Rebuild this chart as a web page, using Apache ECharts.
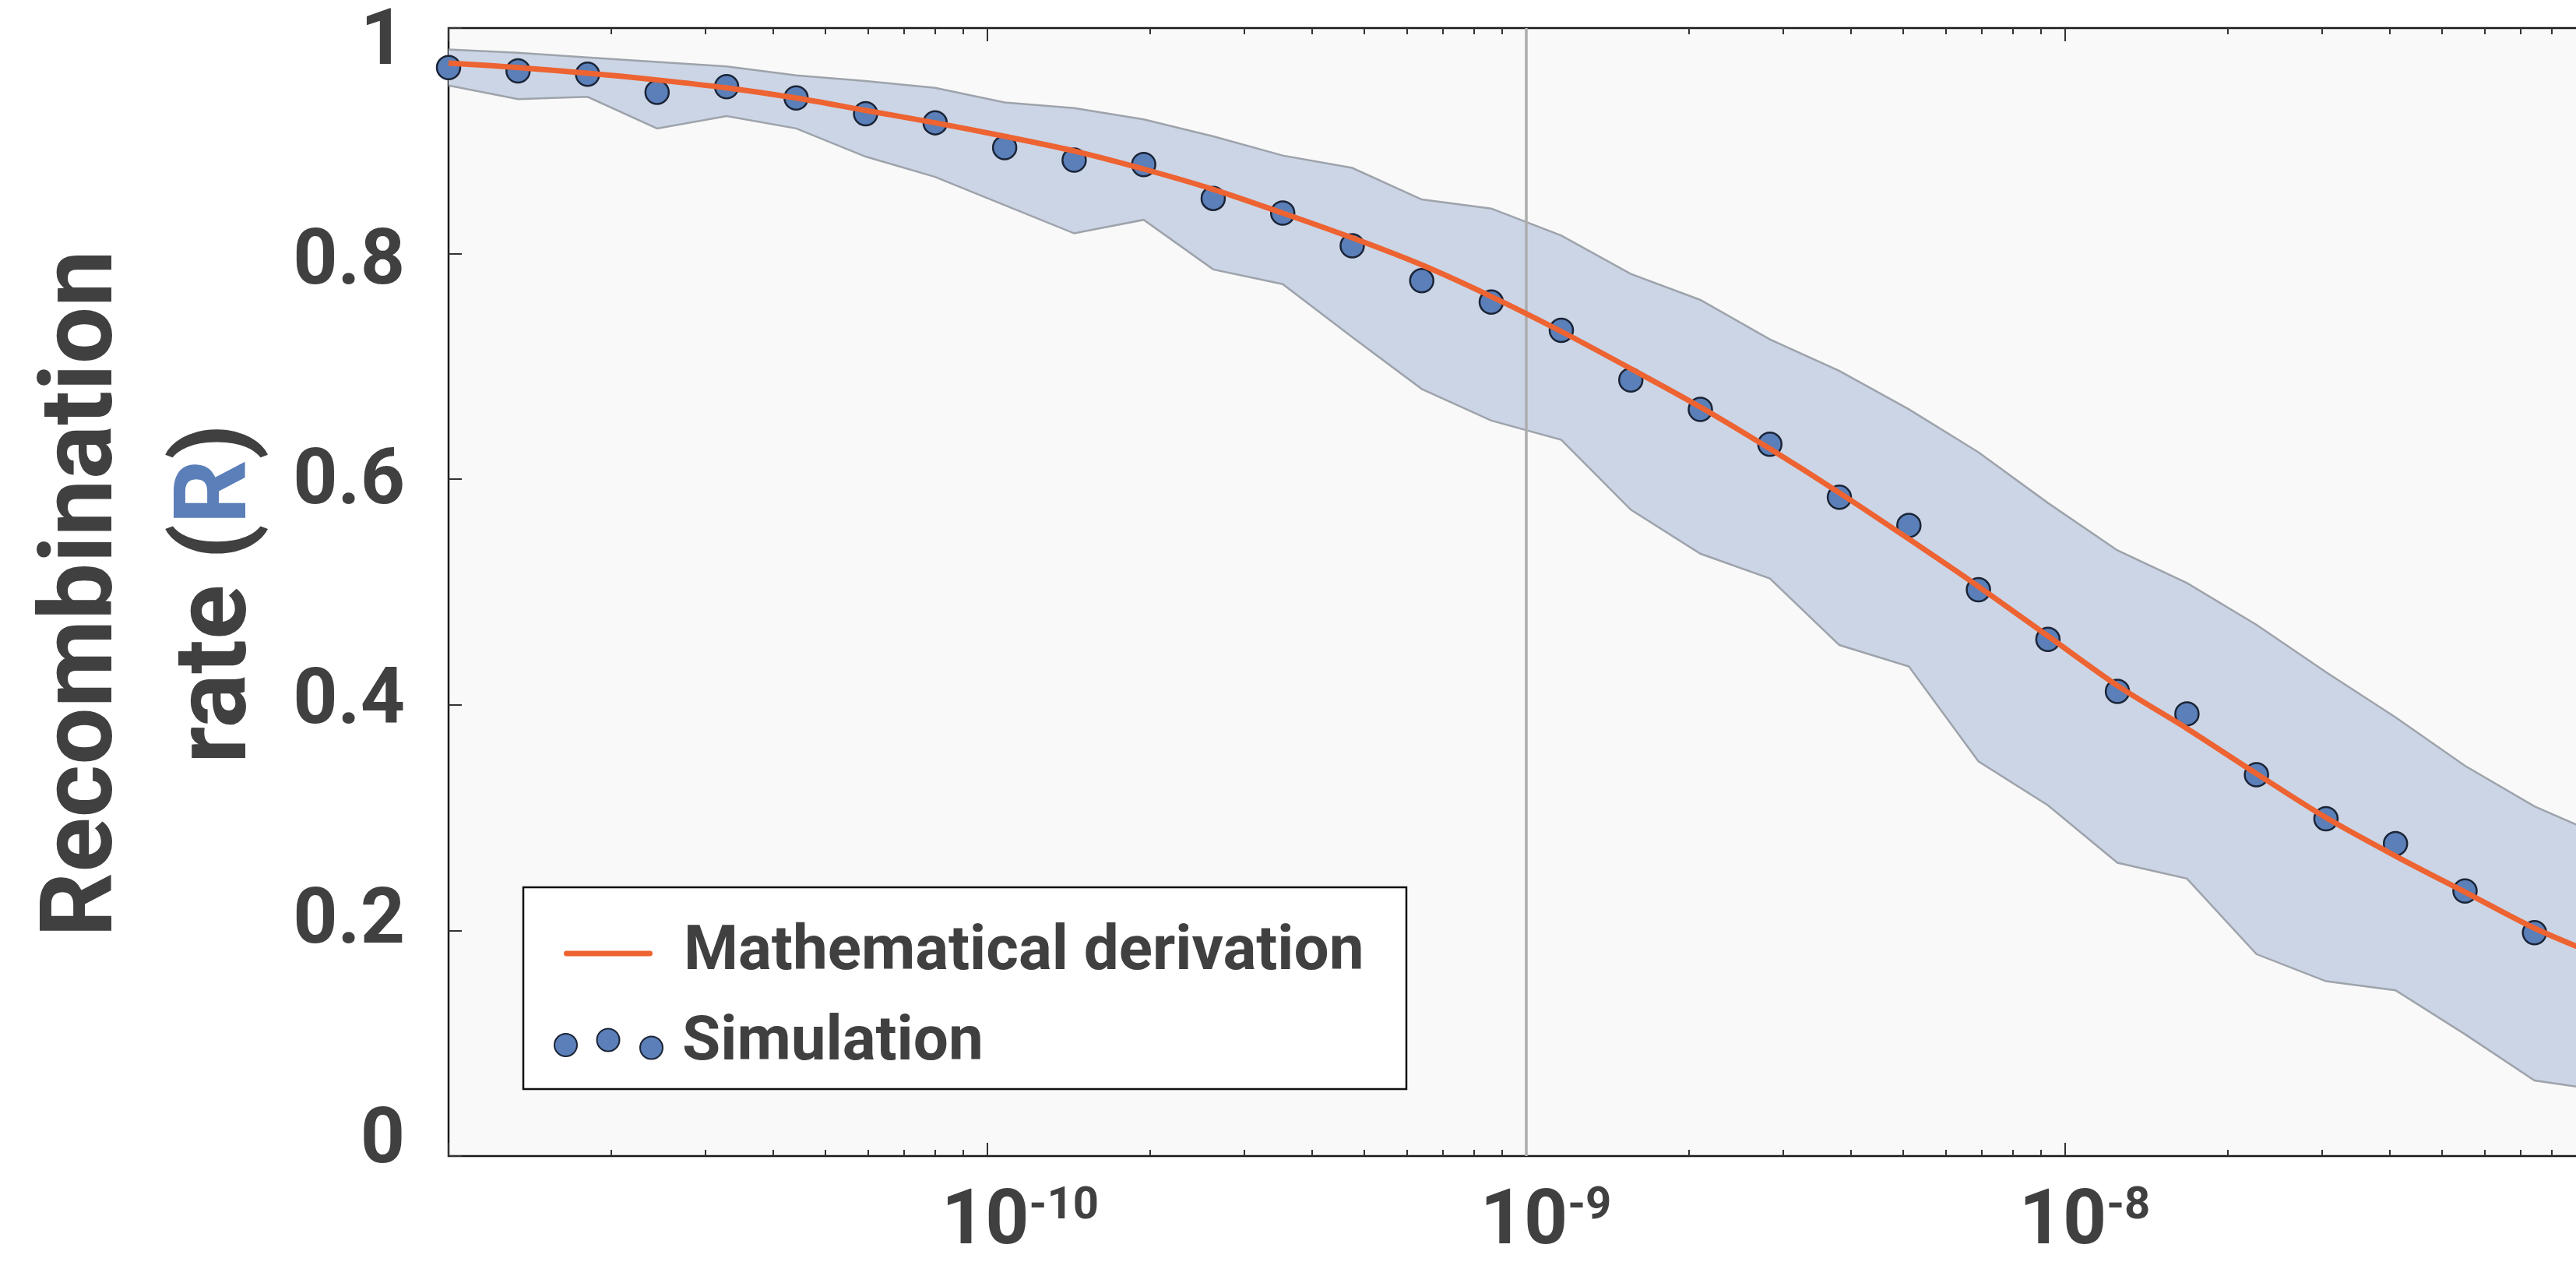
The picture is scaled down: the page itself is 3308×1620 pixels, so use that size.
<!DOCTYPE html>
<html>
<head>
<meta charset="utf-8">
<script src="https://cdn.jsdelivr.net/npm/echarts@6/dist/echarts.min.js"></script>
<style>
  html, body { margin: 0; padding: 0; background: #fff; }
  #main { width: 3308px; height: 1620px; }
</style>
</head>
<body>
<div id="main"></div>
<script>
// x: log10 of the rate (the axis is drawn as 10^n)
var logRate = [-11.000, -10.871, -10.742, -10.613, -10.484, -10.355, -10.226, -10.097,
               -9.968, -9.839, -9.710, -9.581, -9.452, -9.323, -9.194, -9.065,
               -8.935, -8.806, -8.677, -8.548, -8.419, -8.290, -8.161, -8.032,
               -7.903, -7.774, -7.645, -7.516, -7.387, -7.258, -7.129, -7.000];
// mathematical derivation (orange curve)
var theory = [0.969, 0.965, 0.960, 0.954, 0.947, 0.938, 0.927, 0.916,
              0.904, 0.891, 0.875, 0.857, 0.836, 0.814, 0.790, 0.762,
              0.731, 0.698, 0.664, 0.627, 0.588, 0.547, 0.505, 0.461,
              0.417, 0.379, 0.339, 0.300, 0.266, 0.234, 0.202, 0.176];
// simulation means (dots)
var simulation = [0.965, 0.962, 0.959, 0.943, 0.948, 0.938, 0.924, 0.916,
                  0.894, 0.883, 0.879, 0.849, 0.836, 0.807, 0.776, 0.757,
                  0.732, 0.688, 0.662, 0.631, 0.584, 0.559, 0.502, 0.458,
                  0.412, 0.392, 0.338, 0.299, 0.277, 0.235, 0.198, 0.175];
// simulation spread (shaded band)
var bandUpper = [0.981, 0.978, 0.974, 0.970, 0.966, 0.958, 0.953, 0.947,
                 0.934, 0.929, 0.919, 0.904, 0.887, 0.876, 0.848, 0.840,
                 0.816, 0.782, 0.759, 0.724, 0.696, 0.662, 0.624, 0.579,
                 0.537, 0.508, 0.471, 0.429, 0.389, 0.346, 0.310, 0.283];
var bandLower = [0.949, 0.937, 0.939, 0.911, 0.922, 0.911, 0.886, 0.868,
                 0.843, 0.818, 0.830, 0.786, 0.773, 0.726, 0.680, 0.652,
                 0.635, 0.573, 0.534, 0.512, 0.453, 0.434, 0.350, 0.311,
                 0.260, 0.246, 0.179, 0.155, 0.147, 0.108, 0.067, 0.058];
var refRate = -9;
var xLabels = [-10, -9, -8];
var xMajor = [-11, -10, -9, -8, -7];
var xMinor = [];
for (var n = -11; n < -7; n++) {
  for (var k = 2; k <= 9; k++) xMinor.push(n + Math.log10(k));
}

var textColor = '#404040';
var orange = '#ed6332';
var dotBlue = '#5b7fb8';

var myChart = echarts.init(document.getElementById('main'));

function tickAxis(pos, values, len, labels) {
  return {
    gridIndex: 0,
    type: 'value',
    position: pos,
    min: -11,
    max: -7,
    interval: 1,
    axisLine: { show: false },
    splitLine: { show: false },
    axisTick: {
      inside: true,
      length: len,
      customValues: values,
      lineStyle: { color: '#333', width: 2 }
    },
    axisLabel: labels ? {
      customValues: xLabels,
      margin: 36,
      formatter: function (v) {
        var e = String(Math.round(v));
        return '{pad' + e.length + '| }{base|10}{sup|' + e + '}';
      },
      rich: {
        pad2: { width: 50 },
        pad3: { width: 84 },
        base: { fontFamily: 'Roboto', fontWeight: 'bold', fontSize: 98, color: textColor,
                lineHeight: 100, verticalAlign: 'bottom' },
        sup: { fontFamily: 'Roboto', fontWeight: 'bold', fontSize: 58, color: textColor,
               lineHeight: 58, verticalAlign: 'top' }
      }
    } : { show: false }
  };
}

var option = {
  animation: false,
  backgroundColor: '#fff',
  grid: [
    { left: 576, top: 36, width: 2768, height: 1448, show: true, outerBoundsMode: 'none',
      backgroundColor: '#f9f9f9', borderColor: '#1a1a1a', borderWidth: 2.5 },
    // labels of the y axis sit on a slightly tighter scale than the ticks
    { left: 576, top: 57, width: 10, height: 1410, show: false, outerBoundsMode: 'none' }
  ],
  xAxis: [
    tickAxis('bottom', xMajor, 17, true),
    tickAxis('bottom', xMinor, 8, false),
    tickAxis('top', xMajor, 17, false),
    tickAxis('top', xMinor, 8, false),
    { gridIndex: 1, type: 'value', show: false }
  ],
  yAxis: [
    {
      gridIndex: 0, type: 'value', min: 0, max: 1, interval: 0.2,
      axisLine: { show: false },
      splitLine: { show: false },
      axisLabel: { show: false },
      axisTick: { inside: true, length: 17, lineStyle: { color: '#333', width: 2 } }
    },
    {
      gridIndex: 1, type: 'value', min: 0, max: 1, interval: 0.2,
      axisLine: { show: false },
      axisTick: { show: false },
      splitLine: { show: false },
      axisLabel: {
        margin: 56,
        fontFamily: 'Roboto',
        fontWeight: 'bold',
        fontSize: 100,
        color: textColor
      },
      name: '{a|Recombination}\n{a|rate (}{r|R}{a|)}',
      nameLocation: 'middle',
      nameRotate: 90,
      nameGap: 208,
      nameTextStyle: {
        fontFamily: 'Roboto', fontWeight: 'bold', fontSize: 130, color: textColor,
        lineHeight: 172,
        rich: {
          a: { fontFamily: 'Roboto', fontWeight: 'bold', fontSize: 130, color: textColor, lineHeight: 172 },
          r: { fontFamily: 'Roboto', fontWeight: 'bold', fontSize: 130, color: dotBlue, lineHeight: 172 }
        }
      }
    }
  ],
  legend: [
    {
      data: [{ name: 'Mathematical derivation', icon: 'path://M3,0H111A3,3 0 0,1 111,7H3A3,3 0 0,1 3,0Z' }],
      left: 724, top: 1184, padding: 0, z: 10,
      itemWidth: 114, itemHeight: 40,
      itemStyle: { color: orange },
      textStyle: { fontFamily: 'Roboto', fontWeight: 'bold', fontSize: 80, color: textColor,
                   padding: [0, 0, 0, 35] }
    },
    {
      data: [{
        name: 'Simulation',
        icon: 'path://M0,21a14.5,14.5 0 1,0 29,0a14.5,14.5 0 1,0 -29,0z' +
              'M54.5,14.5a14.5,14.5 0 1,0 29,0a14.5,14.5 0 1,0 -29,0z' +
              'M110,24.5a14.5,14.5 0 1,0 29,0a14.5,14.5 0 1,0 -29,0z'
      }],
      left: 711, top: 1300, padding: 0, z: 10,
      itemWidth: 139, itemHeight: 39,
      textStyle: { fontFamily: 'Roboto', fontWeight: 'bold', fontSize: 80, color: textColor,
                   padding: [0, 0, 0, 20] }
    }
  ],
  graphic: [
    { type: 'rect', z: 5, silent: true,
      shape: { x: 672, y: 1139, width: 1134, height: 259 },
      style: { fill: '#fff', stroke: '#111', lineWidth: 2.5 } }
  ],
  series: [
    {
      name: 'band',
      type: 'custom',
      xAxisIndex: 0, yAxisIndex: 0,
      silent: true,
      clip: true,
      z: 1,
      data: logRate.map(function (x, i) { return [x, bandLower[i], bandUpper[i]]; }),
      encode: { x: 0, y: [1, 2] },
      renderItem: function (params, api) {
        if (params.dataIndex !== 0) return;
        var up = [], low = [];
        for (var i = 0; i < logRate.length; i++) {
          up.push(api.coord([logRate[i], bandUpper[i]]));
          low.push(api.coord([logRate[i], bandLower[i]]));
        }
        var poly = up.concat(low.slice().reverse());
        var edge = { stroke: '#9ea3ab', lineWidth: 2.5, fill: null };
        return {
          type: 'group',
          children: [
            { type: 'polygon', shape: { points: poly }, style: { fill: '#cbd5e5' } },
            { type: 'polyline', shape: { points: up }, style: edge },
            { type: 'polyline', shape: { points: low }, style: edge }
          ]
        };
      }
    },
    {
      name: 'ref',
      type: 'line',
      xAxisIndex: 0, yAxisIndex: 0,
      silent: true,
      symbol: 'none',
      z: 2,
      lineStyle: { color: '#adadad', width: 3.5 },
      data: [[refRate, 0], [refRate, 1]]
    },
    {
      name: 'Simulation',
      type: 'scatter',
      xAxisIndex: 0, yAxisIndex: 0,
      z: 3,
      symbolSize: 30,
      itemStyle: { color: dotBlue, borderColor: '#1b2436', borderWidth: 2.5, opacity: 1 },
      data: logRate.map(function (x, i) { return [x, simulation[i]]; })
    },
    {
      name: 'Mathematical derivation',
      type: 'line',
      xAxisIndex: 0, yAxisIndex: 0,
      z: 4,
      symbol: 'none',
      smooth: 0.3,
      lineStyle: { color: orange, width: 7 },
      itemStyle: { color: orange },
      data: logRate.map(function (x, i) { return [x, theory[i]]; })
    }
  ]
};

myChart.setOption(option);
window.addEventListener('resize', function () {
  myChart.resize();
});
</script>
</body>
</html>
